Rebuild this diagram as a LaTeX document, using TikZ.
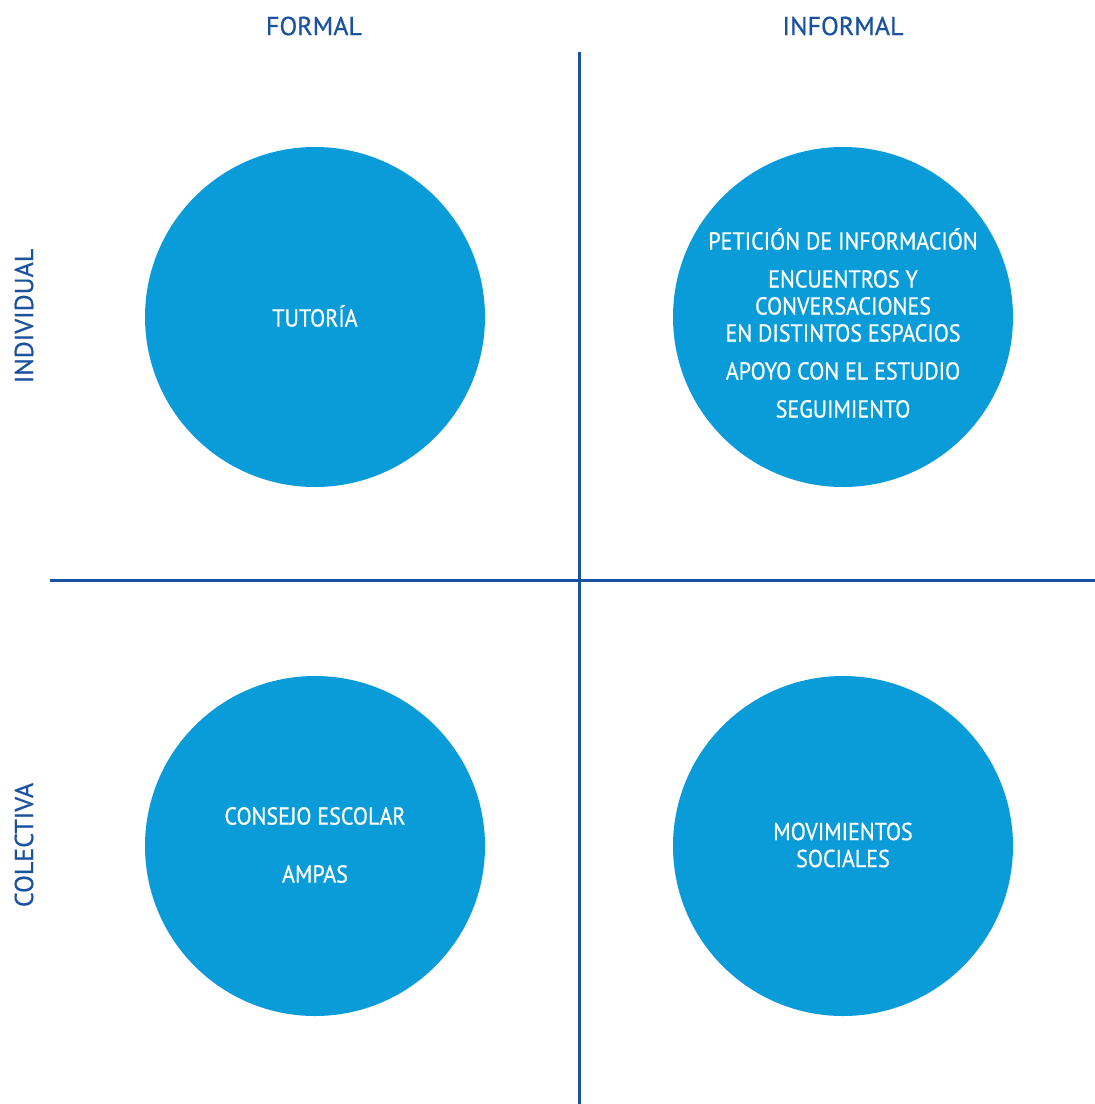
\documentclass[tikz,border=0pt]{standalone}
\usepackage{fontspec}
\setmainfont{PT Sans}[FakeBold=0.6]
\newfontfamily\narrowfont{PT Sans}[FakeStretch=0.9, FakeBold=0.6]
\definecolor{axisblue}{HTML}{1A52A0}
\definecolor{discblue}{HTML}{0A9BD9}
\tikzset{
    axis/.style={line width=3pt, color=axisblue},
    disc/.style={circle, fill=discblue, minimum size=340pt, inner sep=0pt},
    head/.style={color=axisblue, font=\fontsize{26}{30}\selectfont},
    intext/.style={color=white, align=center, font=\narrowfont\fontsize{24.5}{27}\selectfont}
}

\begin{document}
\begin{tikzpicture}[x=1pt, y=-1pt]
    \useasboundingbox (0,0) rectangle (1095,1104);
    % axes
    \coordinate (top) at (579,52);
    \coordinate (bottom) at (579,1104);
    \coordinate (left) at (50,580);
    \coordinate (right) at (1095,580);
    \draw [axis] (top) -- (bottom);
    \draw [axis] (left) -- (right);
    % headings
    \node (formal) at (314,26) [head] {FORMAL};
    \node (informal) at (843,26) [head] {INFORMAL};
    \node (individual) at (24,316) [head, rotate=90] {INDIVIDUAL};
    \node (colectiva) at (24,845) [head, rotate=90] {COLECTIVA};
    % circles
    \node (formind) at (315,317) [disc] {};
    \node (infind) at (843,317) [disc] {};
    \node (formcol) at (315,846) [disc] {};
    \node (infcol) at (843,846) [disc] {};
    % texts
    \node (tutoria) at (315,316) [intext] {TUTORÍA};
    \node (peticion) at (843,323) [intext] {PETICIÓN DE INFORMACIÓN\\[11pt]
        ENCUENTROS Y\\ CONVERSACIONES\\ EN DISTINTOS ESPACIOS\\[11pt]
        APOYO CON EL ESTUDIO\\[11pt] SEGUIMIENTO};
    \node (consejo) at (315,845) [intext] {CONSEJO ESCOLAR\\[31pt] AMPAS};
    \node (movim) at (843,845) [intext] {MOVIMIENTOS\\ SOCIALES};
\end{tikzpicture}
\end{document}
